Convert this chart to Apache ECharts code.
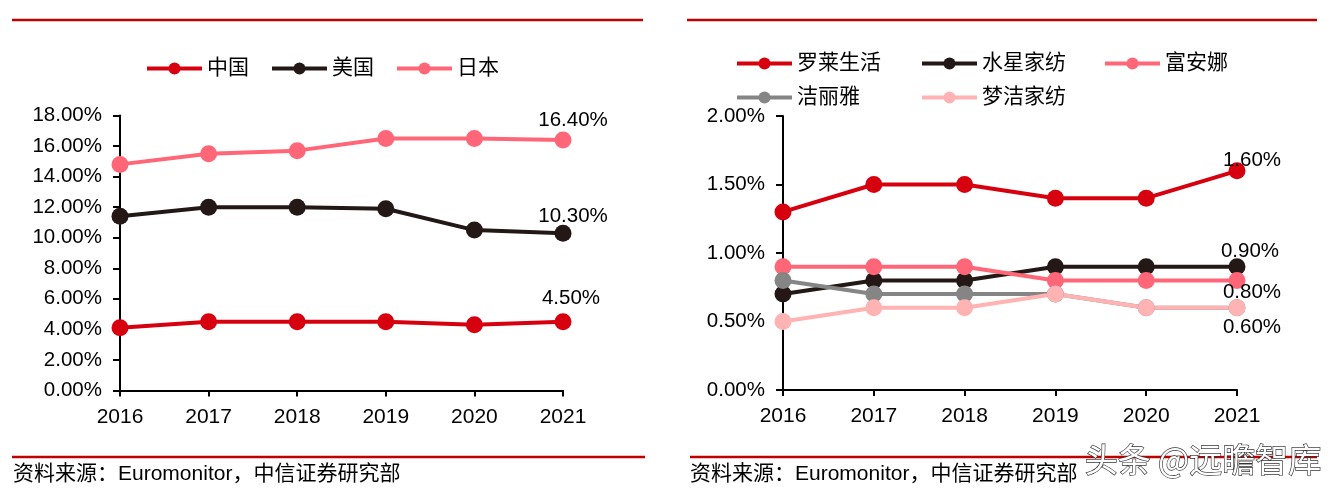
<!DOCTYPE html>
<html><head><meta charset="utf-8">
<script src="https://cdn.jsdelivr.net/npm/echarts@6/dist/echarts.min.js"></script>
<style>html,body{margin:0;padding:0;background:#fff}#c{width:1342px;height:498px}</style>
</head><body><div id="c"></div>
<script>
const years = ['2016','2017','2018','2019','2020','2021'];
// left chart (percent)
const leftNames = ['中国','美国','日本'];
const china = [4.1, 4.5, 4.5, 4.5, 4.3, 4.5];
const usa = [11.4, 12.0, 12.0, 11.9, 10.5, 10.3];
const japan = [14.8, 15.5, 15.7, 16.5, 16.5, 16.4];
const leftTicks = {min: 0, max: 18, interval: 2};
// right chart (percent)
const rightNames = ['罗莱生活','水星家纺','富安娜','洁丽雅','梦洁家纺'];
const luolai = [1.3, 1.5, 1.5, 1.4, 1.4, 1.6];
const shuixing = [0.7, 0.8, 0.8, 0.9, 0.9, 0.9];
const fuanna = [0.9, 0.9, 0.9, 0.8, 0.8, 0.8];
const jieliya = [0.8, 0.7, 0.7, 0.7, 0.6, 0.6];
const mengjie = [0.5, 0.6, 0.6, 0.7, 0.6, 0.6];
const rightTicks = {min: 0, max: 2, interval: 0.5};
const sourceText = '资料来源：Euromonitor，中信证券研究部';
const watermark = '头条 @远瞻智库';

const RED = '#D7000F', BLACK = '#231815', PINK = '#FF6677', GRAY = '#858585', LPINK = '#FFB3B3';
const FONT = '"Liberation Sans", Arial, "Noto Sans CJK SC", sans-serif';

function mkData(arr, lbl) {
  return arr.map((v, i) => {
    if (i === arr.length - 1 && lbl) {
      return {value: v, label: Object.assign({show: true, formatter: (p) => p.value.toFixed(2) + '%',
        color: '#000', fontSize: 20.5, fontFamily: FONT}, lbl)};
    }
    return v;
  });
}
function line(name, arr, color, xi, lbl, size) {
  return {
    name, type: 'line', xAxisIndex: xi, yAxisIndex: xi,
    data: mkData(arr, lbl), symbol: 'circle', symbolSize: size || 17,
    color, lineStyle: {width: 4, color}, itemStyle: {color},
    label: {show: false}, animation: false, z: 2
  };
}
function xAxis(gi) {
  return {
    type: 'category', gridIndex: gi, data: years, boundaryGap: false,
    axisLine: {lineStyle: {color: '#000', width: 2}},
    axisTick: {show: true, inside: false, length: 6, lineStyle: {color: '#000', width: 2}},
    axisLabel: {color: '#000', fontSize: 21, fontFamily: FONT, margin: 16}
  };
}
function yAxis(gi, t) {
  return {
    type: 'value', gridIndex: gi, min: t.min, max: t.max, interval: t.interval,
    splitLine: {show: false},
    axisLine: {show: true, lineStyle: {color: '#000', width: 2}},
    axisTick: {show: true, inside: false, length: 7, lineStyle: {color: '#000', width: 2}},
    axisLabel: {color: '#000', fontSize: 20.5, fontFamily: FONT, margin: 18,
      formatter: (v) => v.toFixed(2) + '%'}
  };
}
const legendText = {color: '#000', fontSize: 21, fontFamily: FONT};
const legendCommon = {itemWidth: 55, itemHeight: 15, padding: 0, textStyle: legendText, selectedMode: false,
  lineStyle: {width: 4}};

const chart = echarts.init(document.getElementById('c'), null, {renderer: 'canvas'});
chart.setOption({
  backgroundColor: '#fff',
  animation: false,
  grid: [
    {left: 120, top: 115.5, width: 443, height: 275},
    {left: 783, top: 116, width: 454, height: 274}
  ],
  xAxis: [xAxis(0), xAxis(1)],
  yAxis: [yAxis(0, leftTicks), yAxis(1, rightTicks)],
  legend: [
    Object.assign({data: leftNames, left: 145, top: 58, itemGap: 21}, legendCommon),
    Object.assign({data: [rightNames[0], rightNames[3]], orient: 'vertical', left: 735, top: 53, itemGap: 13}, legendCommon),
    Object.assign({data: [rightNames[1], rightNames[4]], orient: 'vertical', left: 920, top: 53, itemGap: 13}, legendCommon),
    Object.assign({data: [rightNames[2]], orient: 'vertical', left: 1103, top: 53, itemGap: 13}, legendCommon)
  ],
  series: [
    line(leftNames[0], china, RED, 0, {position: 'top', offset: [8, 0.5]}),
    line(leftNames[1], usa, BLACK, 0, {position: 'top', offset: [10, 6.5]}),
    line(leftNames[2], japan, PINK, 0, {position: 'top', offset: [10, 4.5]}),
    line(rightNames[0], luolai, RED, 1, {position: 'top', offset: [15, 13.5]}),
    line(rightNames[1], shuixing, BLACK, 1, {position: 'top', offset: [13, 8.5]}),
    line(rightNames[2], fuanna, PINK, 1, {position: 'bottom', offset: [15, -11.5]}),
    line(rightNames[3], jieliya, GRAY, 1, null),
    line(rightNames[4], mengjie, LPINK, 1, {position: 'bottom', offset: [15, -4.5]})
  ],
  graphic: [
    {type: 'line', shape: {x1: 12, y1: 20, x2: 643, y2: 20}, style: {stroke: '#C00000', lineWidth: 2.5}},
    {type: 'line', shape: {x1: 687, y1: 20, x2: 1317, y2: 20}, style: {stroke: '#C00000', lineWidth: 2.5}},
    {type: 'line', shape: {x1: 12, y1: 457, x2: 645, y2: 457}, style: {stroke: '#C00000', lineWidth: 2.5}},
    {type: 'line', shape: {x1: 690, y1: 457, x2: 1317, y2: 457}, style: {stroke: '#C00000', lineWidth: 2.5}},
    {type: 'text', left: 13, top: 464, style: {text: sourceText, fill: '#000', font: '21px ' + FONT}},
    {type: 'text', left: 690, top: 464, style: {text: sourceText, fill: '#000', font: '21px ' + FONT}},
    {type: 'text', left: 1084, top: 442, z: 100, style: {text: watermark, fill: '#fff', stroke: '#333', lineWidth: 1.3,
      font: '33px "Noto Sans CJK SC", sans-serif'}}
  ]
});
</script></body></html>
